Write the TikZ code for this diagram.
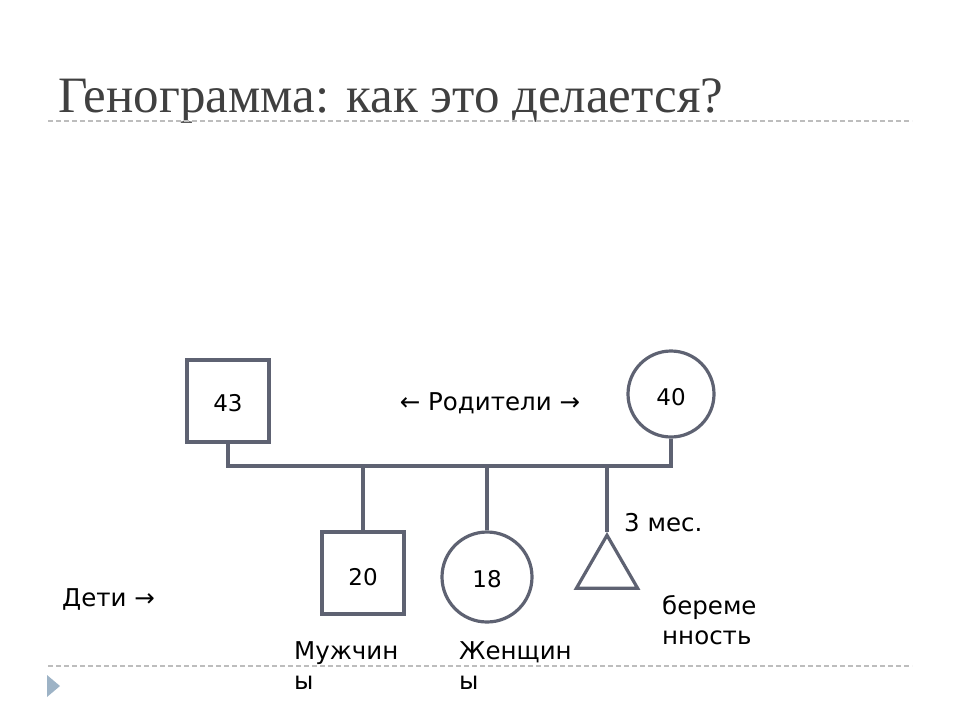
\documentclass[tikz,border=0pt]{standalone}
\usepackage{fontspec}
\setmainfont{DejaVu Sans}
\newfontfamily\titlefont{Liberation Serif}
\usepackage{tikz}
\usetikzlibrary{shapes, positioning}
\usetikzlibrary{calc}
\definecolor{linegray}{HTML}{5E6272}
\definecolor{rulegray}{HTML}{BDBDBD}
\definecolor{titlegray}{HTML}{404040}
\definecolor{bulletblue}{HTML}{9DB3C6}
\newcommand{\lowered}[2]{\raisebox{-#1}[\height][\depth]{#2}}

\begin{document}
\begin{tikzpicture}[x=1pt, y=-1pt,
		person/.style={draw=linegray, line width=3.2pt, inner sep=0pt, font=\fontsize{23}{26}\selectfont},
		male/.style={person, rectangle, minimum size=82pt},
		female/.style={person, circle, minimum size=86pt},
		label/.style={inner sep=0pt, anchor=west, align=left, font=\fontsize{24.5}{30}\selectfont},
		link/.style={draw=linegray, line width=3.2pt},
		rule/.style={draw=rulegray, line width=1.2pt, dash pattern=on 5pt off 3pt}]
			\useasboundingbox (0,0) rectangle (960,720);
			% title
			\node[inner sep=0pt, anchor=base west, text=titlegray, font=\titlefont\fontsize{51}{56}\selectfont] (title) at (58,112) {Генограмма: как это делается?};
			\draw[rule] (48,121) -- (912,121);
			\draw[rule] (48,666) -- (912,666);
			\fill[bulletblue] (47,675) -- (60,686) -- (47,697) -- cycle;
			% parents
			\node[male] (father) at (228,401) {\lowered{2pt}{43}};
			\node[female] (mother) at (671,394) {\lowered{3pt}{40}};
			\node[label, anchor=center] (parents) at (490,403) {← Родители →};
			\coordinate (fjoin) at (father.south |- 0,466);
			\coordinate (mjoin) at (mother.south |- 0,466);
			\draw[link] (father.south) -- (fjoin) -- (mjoin) -- (mother.south);
			% children
			\node[male] (son) at (363,573) {\lowered{4pt}{20}};
			\node[female, minimum size=90pt] (daughter) at (487,577) {\lowered{2pt}{18}\hspace{8pt}};
			\node[draw=linegray, line width=3.2pt, isosceles triangle, shape border rotate=90, isosceles triangle apex angle=60, minimum height=53pt, inner sep=0pt, anchor=apex] (baby) at (607,532) {};
			\foreach \kid in {son, daughter, baby}
				\draw[link] (\kid.north |- fjoin) -- (\kid.north);
			% labels
			\node[label] (age) at (624,523) {3 мес.};
			\node[label] (preg) at (662,620) {береме\\нность};
			\node[label] (men) at (294,666) {Мужчин\\ы};
			\node[label] (women) at (459,666) {Женщин\\ы};
			\node[label] (kids) at (62,599) {Дети →};
		\end{tikzpicture}
\end{document}
